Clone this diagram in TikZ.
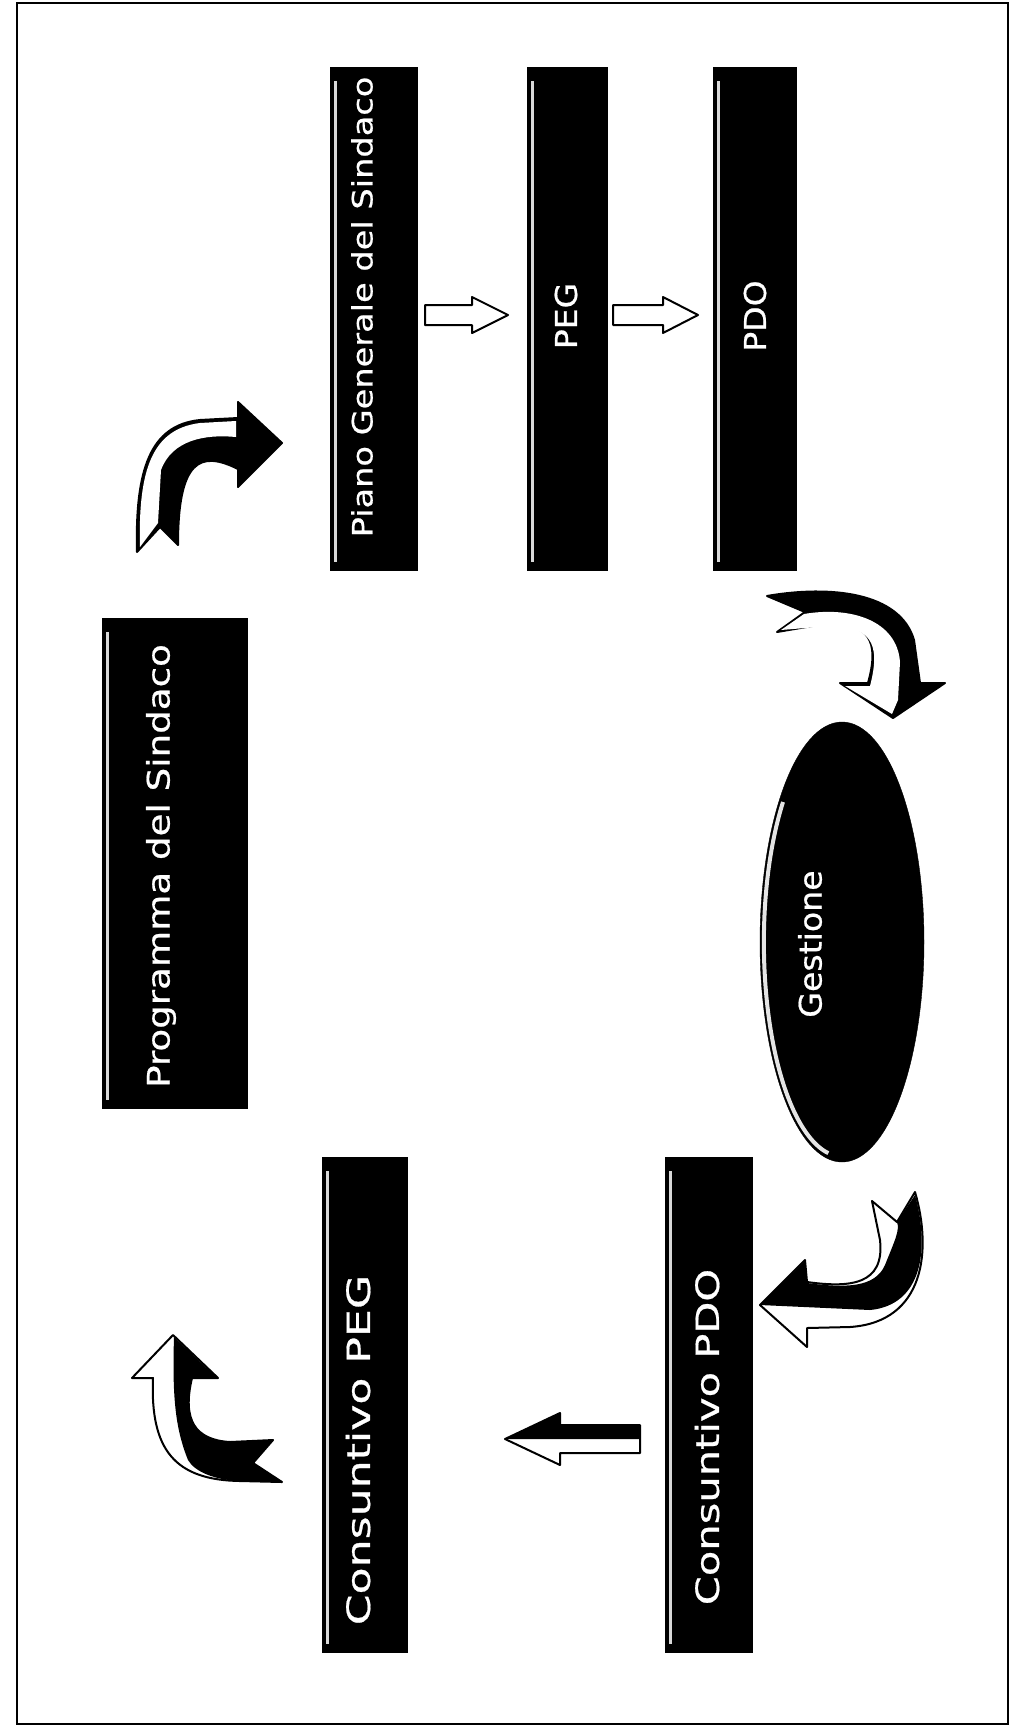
\documentclass[tikz,border=0pt]{standalone}
\usepackage{fontspec}
\setmainfont{DejaVu Sans}
\newfontfamily\lblfont{DejaVu Sans}[FakeBold=0.6]
\usepackage{graphicx}
\usetikzlibrary{calc,shapes.geometric}
\tikzset{
  box/.style={fill=black, draw=black, line width=0.8pt, inner sep=0pt, rectangle},
  lbl/.style={text=white, rotate=90, inner sep=0pt, anchor=center},
  bevel/.style={draw=white!85!black, line width=3pt},
  outl/.style={draw=black, line width=2pt, line join=round},
}
\newcommand\blackbox[5]{%
  \node[box, minimum width={(#4-#2)*1pt}, minimum height={(#5-#3)*1pt}] (#1) at ({(#2+#4)/2},{(#3+#5)/2}) {};
  \draw[bevel] ({#2+5},{#3+14}) -- ({#2+5},{#5-8});
}
\newcommand\lab[6]{% name x y size stretch text
  \node[lbl, font=\lblfont\fontsize{#4}{#4}\selectfont] (#1) at (#2,#3) {\scalebox{#5}[1]{#6}};
}
\begin{document}
\begin{tikzpicture}[x=1pt,y=-1pt]
\useasboundingbox (0,0) rectangle (1017,1727);
\fill[white] (0,0) rectangle (1017,1727);
\draw[line width=1.2pt] (17,3) rectangle (1008,1724);

% boxes
\blackbox{prog}{102}{618}{247}{1108}
\blackbox{piano}{330}{67}{417}{570}
\blackbox{peg}{527}{67}{607}{570}
\blackbox{pdo}{713}{67}{796}{570}
\blackbox{cpeg}{322}{1157}{407}{1652}
\blackbox{cpdo}{665}{1157}{752}{1652}

% ellipse
\node[draw=black, fill=black, ellipse, minimum width=164pt, minimum height=440pt, inner sep=0pt] (gest) at (842,942) {};
\draw[white!90!black, line width=4pt] (783,802) arc[start angle=221, end angle=100, x radius=78, y radius=214];

% labels
\lab{tprog}{161}{866}{31}{1.2}{Programma del Sindaco}
\lab{tpiano}{362}{307}{28}{1.2}{Piano Generale del Sindaco}
\lab{tpeg}{566}{316}{30}{1.1}{PEG}
\lab{tpdo}{755}{316}{30}{1.1}{PDO}
\lab{tcpeg}{358}{1450}{32}{1.38}{Consuntivo PEG}
\lab{tcpdo}{707}{1437}{32}{1.3}{Consuntivo PDO}
\lab{tgest}{810}{944}{31}{1.07}{Gestione}

% straight arrows
\path[fill=white, outl] (425,305) -- (472,305) -- (472,297) -- (508,315) -- (472,333) -- (472,325) -- (425,325) -- cycle;
\path[fill=white, outl] (613,305) -- (663,305) -- (663,297) -- (698,315) -- (663,333) -- (663,325) -- (613,325) -- cycle;
\path[fill=white] (640,1425) -- (560,1425) -- (560,1413) -- (505,1439) -- (560,1465) -- (560,1453) -- (640,1453) -- cycle;
\fill[black] (640,1425) -- (560,1425) -- (560,1413) -- (505,1439) -- (640,1439) -- cycle;
\path[outl] (640,1425) -- (560,1425) -- (560,1413) -- (505,1439) -- (560,1465) -- (560,1453) -- (640,1453) -- cycle;

% curved arrow A (to Piano)
\path[fill=black, outl] (137,552) .. controls (135,470) and (150,425) .. (200,420) -- (238,418) -- (238,402) -- (282,443) -- (238,487) -- (238,469) .. controls (200,450) and (178,460) .. (178,545) -- (160,527) -- cycle;
\fill[white] (140,547) .. controls (138,470) and (152,429) .. (200,423) -- (236,421) -- (236,437) .. controls (205,434) and (172,440) .. (161,470) -- (158,523) -- cycle;

% curved arrow B (to Gestione)
\path[fill=black, outl] (767,596) .. controls (830,585) and (900,592) .. (914,640) -- (920,683) -- (945,683) -- (893,718) -- (840,683) -- (868,683) .. controls (880,640) and (868,624) .. (830,623) -- (777,632) -- (805,612) -- cycle;
\fill[white] (892,714) -- (845,686) -- (870,686) .. controls (882,640) and (868,627) .. (830,626) -- (781,630) -- (804,614) .. controls (850,606) and (897,620) .. (900,662) -- (898,700) -- cycle;

% curved arrow C (to Consuntivo PDO)
\path[fill=white] (872,1201) -- (897,1222) -- (915,1192) .. controls (932,1250) and (925,1322) .. (850,1327) -- (807,1328) -- (807,1347) -- (760,1305) -- (805,1260) -- (807,1282) .. controls (850,1288) and (885,1285) .. (880,1240) -- cycle;
\fill[black] (915,1195) .. controls (930,1250) and (922,1305) .. (870,1310) -- (760,1305) -- (805,1261) -- (807,1283) .. controls (845,1288) and (875,1288) .. (885,1265) .. controls (895,1240) and (900,1230) .. (897,1222) -- cycle;
\path[outl] (872,1201) -- (897,1222) -- (915,1192) .. controls (932,1250) and (925,1322) .. (850,1327) -- (807,1328) -- (807,1347) -- (760,1305) -- (805,1260) -- (807,1282) .. controls (850,1288) and (885,1285) .. (880,1240) -- cycle;

% curved arrow D (up)
\path[fill=white] (173,1335) -- (218,1378) -- (192,1378) .. controls (182,1420) and (195,1440) .. (230,1442) -- (273,1440) -- (253,1463) -- (282,1482) -- (240,1481) .. controls (175,1480) and (150,1450) .. (153,1378) -- (132,1378) -- cycle;
\fill[black] (174,1337) -- (216,1377) -- (192,1378) .. controls (182,1420) and (195,1440) .. (230,1442) -- (273,1440) -- (253,1463) -- (282,1482) -- (240,1481) .. controls (215,1480) and (195,1472) .. (188,1460) .. controls (176,1430) and (172,1400) .. (174,1337) -- cycle;
\path[outl] (173,1335) -- (218,1378) -- (192,1378) .. controls (182,1420) and (195,1440) .. (230,1442) -- (273,1440) -- (253,1463) -- (282,1482) -- (240,1481) .. controls (175,1480) and (150,1450) .. (153,1378) -- (132,1378) -- cycle;
\end{tikzpicture}
\end{document}
